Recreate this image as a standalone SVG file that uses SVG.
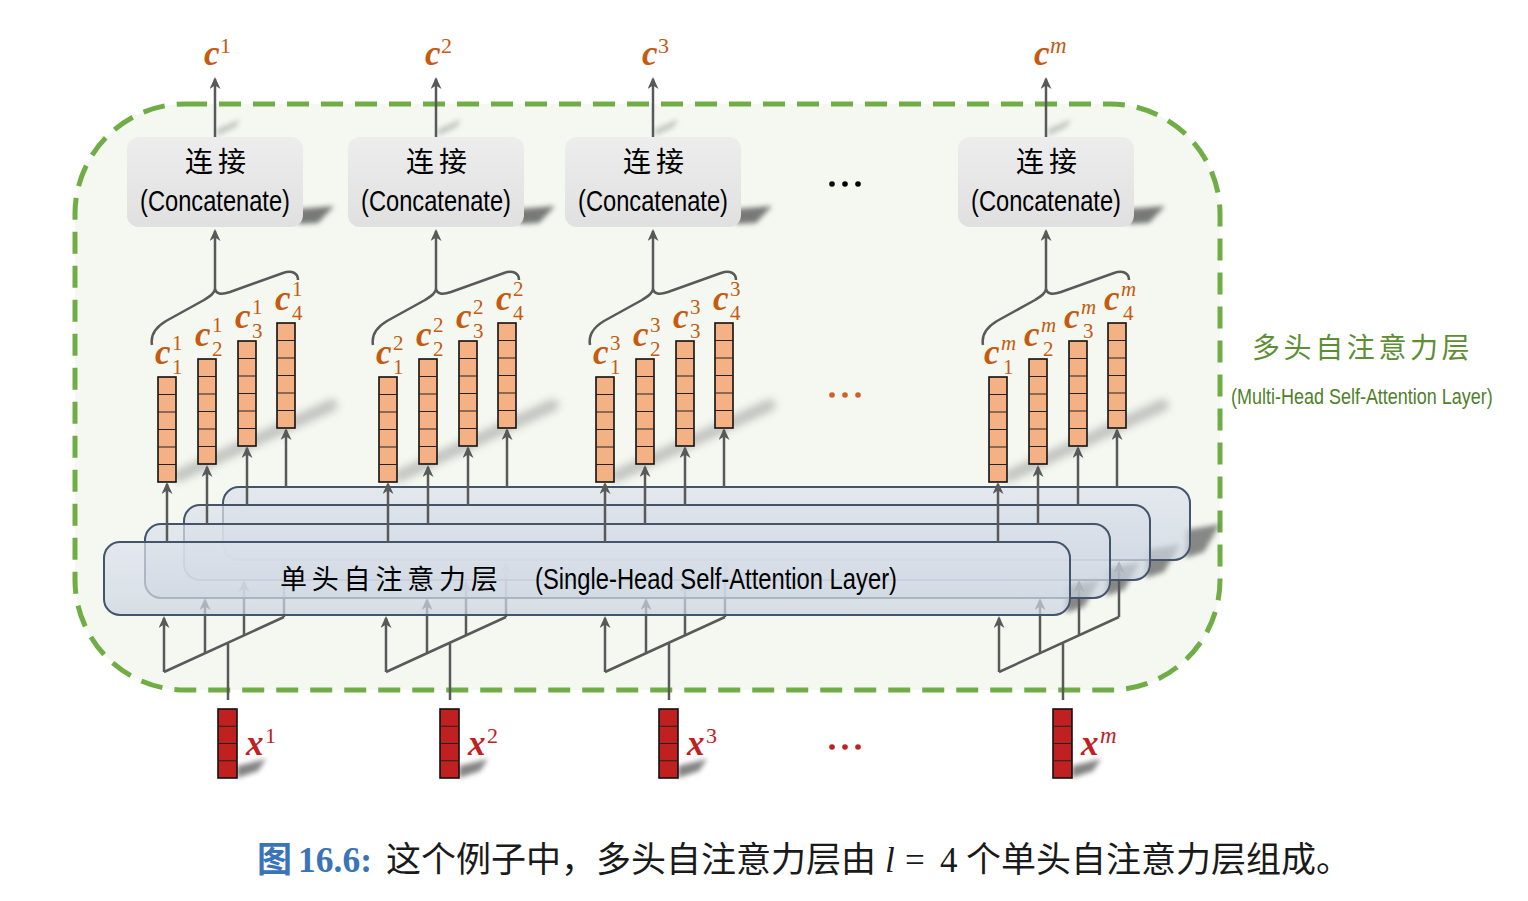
<svg xmlns="http://www.w3.org/2000/svg" xmlns:xlink="http://www.w3.org/1999/xlink" width="1528" height="901" viewBox="0 0 1528 901">
<style>
.ln{stroke:#595959;stroke-width:2.5;fill:none}
.ar{stroke:#595959;stroke-width:2.5;fill:none;marker-end:url(#ah)}
.vec{fill:#f4b183;stroke:#111;stroke-width:1.6}
.xv{fill:#c0201f;stroke:#111;stroke-width:1.6}
.cell{stroke:#222;stroke-width:1.2;fill:none}
.lbl{font-family:"Liberation Serif",serif;font-weight:bold;font-style:italic;font-size:35px;fill:#c55a11}
.xl{fill:#c0201f}
.sp{font-weight:normal;font-style:normal;font-size:22px}
.spi{font-weight:normal;font-style:italic;font-size:23px}
.ss{font-weight:normal;font-style:normal;font-size:21px}
.ssi{font-weight:normal;font-style:italic;font-size:21px}
.box{fill:url(#gc)}
.layer{fill:url(#gl);fill-opacity:0.72;stroke:#44546a;stroke-width:2}
.cjk{font-family:"Noto Sans CJK SC","Noto Sans CJK JP",sans-serif}
.en{font-family:"Liberation Sans",Arial,sans-serif}
.ctitle{font-size:28px;fill:#000}
.cen{font-size:29px;fill:#000}
.sh{fill:#5a5a5a;filter:url(#blur)}
.dot{stroke:none}
</style>
<defs>
<filter id="blur" x="-50%" y="-50%" width="200%" height="200%"><feGaussianBlur stdDeviation="2.5"/></filter>
<filter id="blur2" x="-50%" y="-50%" width="200%" height="200%"><feGaussianBlur stdDeviation="4"/></filter>
<linearGradient id="gc" x1="0" y1="0" x2="0" y2="1"><stop offset="0" stop-color="#ededed"/><stop offset="1" stop-color="#e0e0e0"/></linearGradient>
<linearGradient id="gl" x1="0" y1="0" x2="0" y2="1"><stop offset="0" stop-color="#dce2eb"/><stop offset="0.75" stop-color="#d1d9e4"/><stop offset="1" stop-color="#c9d2de"/></linearGradient>
<marker id="ah" viewBox="0 0 12 11" refX="10" refY="5.5" markerWidth="12" markerHeight="11" markerUnits="userSpaceOnUse" orient="auto"><path d="M0,0 L12,5.5 L0,11 L3.5,5.5 z" fill="#595959"/></marker>
<g id="v6"><rect width="18" height="105" class="vec"/><path d="M0,17.5h18M0,35h18M0,52.5h18M0,70h18M0,87.5h18" class="cell"/></g>
<g id="v4"><rect width="19" height="69" class="xv"/><path d="M0,17.25h19M0,34.5h19M0,51.75h19" class="cell"/></g>
</defs>
<rect width="1528" height="901" fill="#ffffff"/>

<g id="multi-head-container">
<rect x="75" y="104" width="1145" height="586" rx="110" fill="#f4f8f0" stroke="#70ad47" stroke-width="5" stroke-dasharray="22 12"/>
</g>

<g id="shadows">
<g id="shadow-col1">
<polygon class="sh" points="298,224 298,209 334,206 318,223" opacity="0.8"/>
<polygon class="sh" points="217,136 217,129 240,119 236,127" opacity="0.3"/>
<path d="M178,476 L332,405" stroke="#7a7a7a" stroke-width="11" stroke-linecap="round" opacity="0.45" filter="url(#blur2)"/>
</g>
<g transform="translate(221,0)">
<polygon class="sh" points="298,224 298,209 334,206 318,223" opacity="0.8"/>
<polygon class="sh" points="217,136 217,129 240,119 236,127" opacity="0.3"/>
<path d="M178,476 L332,405" stroke="#7a7a7a" stroke-width="11" stroke-linecap="round" opacity="0.45" filter="url(#blur2)"/>
</g>
<g transform="translate(438,0)">
<polygon class="sh" points="298,224 298,209 334,206 318,223" opacity="0.8"/>
<polygon class="sh" points="217,136 217,129 240,119 236,127" opacity="0.3"/>
<path d="M178,476 L332,405" stroke="#7a7a7a" stroke-width="11" stroke-linecap="round" opacity="0.45" filter="url(#blur2)"/>
</g>
<g transform="translate(831,0)">
<polygon class="sh" points="298,224 298,209 334,206 318,223" opacity="0.8"/>
<polygon class="sh" points="217,136 217,129 240,119 236,127" opacity="0.3"/>
<path d="M178,476 L332,405" stroke="#7a7a7a" stroke-width="11" stroke-linecap="round" opacity="0.45" filter="url(#blur2)"/>
</g>
<polygon class="sh" points="1186,558 1186,530 1220,524 1204,552" opacity="0.7"/>
<polygon class="sh" points="1146,578 1146,550 1180,544 1164,572" opacity="0.7"/>
<polygon class="sh" points="1106,596 1106,568 1140,562 1124,590" opacity="0.7"/>
<polygon class="sh" points="1066,613 1066,585 1100,579 1084,607" opacity="0.7"/>
</g>

<g id="concat-1">
<rect x="127" y="137" width="176" height="90" rx="12" class="box"/>
<text x="218" y="172" text-anchor="middle" class="cjk ctitle" letter-spacing="5">连接</text>
<text x="215" y="211" text-anchor="middle" class="en cen" textLength="150" lengthAdjust="spacingAndGlyphs">(Concatenate)</text>
</g>
<g id="concat-2" transform="translate(221,0)">
<rect x="127" y="137" width="176" height="90" rx="12" class="box"/>
<text x="218" y="172" text-anchor="middle" class="cjk ctitle" letter-spacing="5">连接</text>
<text x="215" y="211" text-anchor="middle" class="en cen" textLength="150" lengthAdjust="spacingAndGlyphs">(Concatenate)</text>
</g>
<g id="concat-3" transform="translate(438,0)">
<rect x="127" y="137" width="176" height="90" rx="12" class="box"/>
<text x="218" y="172" text-anchor="middle" class="cjk ctitle" letter-spacing="5">连接</text>
<text x="215" y="211" text-anchor="middle" class="en cen" textLength="150" lengthAdjust="spacingAndGlyphs">(Concatenate)</text>
</g>
<g id="concat-m" transform="translate(831,0)">
<rect x="127" y="137" width="176" height="90" rx="12" class="box"/>
<text x="218" y="172" text-anchor="middle" class="cjk ctitle" letter-spacing="5">连接</text>
<text x="215" y="211" text-anchor="middle" class="en cen" textLength="150" lengthAdjust="spacingAndGlyphs">(Concatenate)</text>
</g>

<g id="outputs">
<text class="lbl"><tspan x="204" y="65">c</tspan><tspan class="sp" x="220" y="53">1</tspan></text>
<text class="lbl"><tspan x="425" y="65">c</tspan><tspan class="sp" x="441" y="53">2</tspan></text>
<text class="lbl"><tspan x="642" y="65">c</tspan><tspan class="sp" x="658" y="53">3</tspan></text>
<text class="lbl"><tspan x="1034" y="65">c</tspan><tspan class="spi" x="1050" y="53">m</tspan></text>
</g>

<g id="heads-1">
<use xlink:href="#v6" href="#v6" x="158" y="377"/>
<use xlink:href="#v6" href="#v6" x="198" y="359"/>
<use xlink:href="#v6" href="#v6" x="238" y="341"/>
<use xlink:href="#v6" href="#v6" x="277" y="323"/>
<text class="lbl"><tspan x="155" y="364">c</tspan><tspan class="ss" x="172" y="350">1</tspan><tspan class="ss" x="172" y="374">1</tspan></text>
<text class="lbl"><tspan x="195" y="346">c</tspan><tspan class="ss" x="212" y="332">1</tspan><tspan class="ss" x="212" y="356">2</tspan></text>
<text class="lbl"><tspan x="235" y="328">c</tspan><tspan class="ss" x="252" y="314">1</tspan><tspan class="ss" x="252" y="338">3</tspan></text>
<text class="lbl"><tspan x="275" y="310">c</tspan><tspan class="ss" x="292" y="296">1</tspan><tspan class="ss" x="292" y="320">4</tspan></text>
</g>
<g id="heads-2" transform="translate(221,0)">
<use xlink:href="#v6" href="#v6" x="158" y="377"/>
<use xlink:href="#v6" href="#v6" x="198" y="359"/>
<use xlink:href="#v6" href="#v6" x="238" y="341"/>
<use xlink:href="#v6" href="#v6" x="277" y="323"/>
<text class="lbl"><tspan x="155" y="364">c</tspan><tspan class="ss" x="172" y="350">2</tspan><tspan class="ss" x="172" y="374">1</tspan></text>
<text class="lbl"><tspan x="195" y="346">c</tspan><tspan class="ss" x="212" y="332">2</tspan><tspan class="ss" x="212" y="356">2</tspan></text>
<text class="lbl"><tspan x="235" y="328">c</tspan><tspan class="ss" x="252" y="314">2</tspan><tspan class="ss" x="252" y="338">3</tspan></text>
<text class="lbl"><tspan x="275" y="310">c</tspan><tspan class="ss" x="292" y="296">2</tspan><tspan class="ss" x="292" y="320">4</tspan></text>
</g>
<g id="heads-3" transform="translate(438,0)">
<use xlink:href="#v6" href="#v6" x="158" y="377"/>
<use xlink:href="#v6" href="#v6" x="198" y="359"/>
<use xlink:href="#v6" href="#v6" x="238" y="341"/>
<use xlink:href="#v6" href="#v6" x="277" y="323"/>
<text class="lbl"><tspan x="155" y="364">c</tspan><tspan class="ss" x="172" y="350">3</tspan><tspan class="ss" x="172" y="374">1</tspan></text>
<text class="lbl"><tspan x="195" y="346">c</tspan><tspan class="ss" x="212" y="332">3</tspan><tspan class="ss" x="212" y="356">2</tspan></text>
<text class="lbl"><tspan x="235" y="328">c</tspan><tspan class="ss" x="252" y="314">3</tspan><tspan class="ss" x="252" y="338">3</tspan></text>
<text class="lbl"><tspan x="275" y="310">c</tspan><tspan class="ss" x="292" y="296">3</tspan><tspan class="ss" x="292" y="320">4</tspan></text>
</g>
<g id="heads-m" transform="translate(831,0)">
<use xlink:href="#v6" href="#v6" x="158" y="377"/>
<use xlink:href="#v6" href="#v6" x="198" y="359"/>
<use xlink:href="#v6" href="#v6" x="238" y="341"/>
<use xlink:href="#v6" href="#v6" x="277" y="323"/>
<text class="lbl"><tspan x="153" y="364">c</tspan><tspan class="ssi" x="170" y="350">m</tspan><tspan class="ss" x="172" y="374">1</tspan></text>
<text class="lbl"><tspan x="193" y="346">c</tspan><tspan class="ssi" x="210" y="332">m</tspan><tspan class="ss" x="212" y="356">2</tspan></text>
<text class="lbl"><tspan x="233" y="328">c</tspan><tspan class="ssi" x="250" y="314">m</tspan><tspan class="ss" x="252" y="338">3</tspan></text>
<text class="lbl"><tspan x="273" y="310">c</tspan><tspan class="ssi" x="290" y="296">m</tspan><tspan class="ss" x="292" y="320">4</tspan></text>
</g>

<g id="connectors-input">
<g>
<path class="ln" d="M228,700V643M164,672L284,617"/>
<path class="ar" d="M164,672V618"/>
<path class="ar" d="M205,653V600"/>
<path class="ar" d="M244,635V582"/>
<path class="ar" d="M284,617V563"/>
</g>
<g transform="translate(222,0)">
<path class="ln" d="M228,700V643M164,672L284,617"/>
<path class="ar" d="M164,672V618"/>
<path class="ar" d="M205,653V600"/>
<path class="ar" d="M244,635V582"/>
<path class="ar" d="M284,617V563"/>
</g>
<g transform="translate(441,0)">
<path class="ln" d="M228,700V643M164,672L284,617"/>
<path class="ar" d="M164,672V618"/>
<path class="ar" d="M205,653V600"/>
<path class="ar" d="M244,635V582"/>
<path class="ar" d="M284,617V563"/>
</g>
<g transform="translate(835,0)">
<path class="ln" d="M228,700V643M164,672L284,617"/>
<path class="ar" d="M164,672V618"/>
<path class="ar" d="M205,653V600"/>
<path class="ar" d="M244,635V582"/>
<path class="ar" d="M284,617V563"/>
</g>
</g>

<g id="single-head-4"><rect x="223" y="487" width="967" height="73" rx="16" class="layer"/></g>
<g id="single-head-3"><rect x="184" y="505" width="966" height="75" rx="16" class="layer"/></g>
<g id="single-head-2"><rect x="145" y="524" width="965" height="74" rx="16" class="layer"/></g>
<g id="single-head-1">
<rect x="104" y="542" width="966" height="73" rx="16" class="layer"/>
<text x="280" y="589" class="cjk" font-size="27" letter-spacing="4.8" fill="#000">单头自注意力层</text>
<text x="535" y="589" class="en" font-size="30" fill="#000" textLength="362" lengthAdjust="spacingAndGlyphs">(Single-Head Self-Attention Layer)</text>
</g>

<g id="connectors-output">
<g>
<path class="ar" d="M167,542V484"/>
<path class="ar" d="M207,524V467"/>
<path class="ar" d="M247,505V448"/>
<path class="ar" d="M286,487V430"/>
<path class="ln" d="M152,345 C150,334 156,327 166,321 L204,300 C210,296 214,294 215,289 C216,294 221,295 230,292 L283,273 C292,270 298,273 298,280"/>
<path class="ar" d="M215,289V231"/>
<path class="ar" d="M215,137V79"/>
</g>
<g transform="translate(221,0)">
<path class="ar" d="M167,542V484"/>
<path class="ar" d="M207,524V467"/>
<path class="ar" d="M247,505V448"/>
<path class="ar" d="M286,487V430"/>
<path class="ln" d="M152,345 C150,334 156,327 166,321 L204,300 C210,296 214,294 215,289 C216,294 221,295 230,292 L283,273 C292,270 298,273 298,280"/>
<path class="ar" d="M215,289V231"/>
<path class="ar" d="M215,137V79"/>
</g>
<g transform="translate(438,0)">
<path class="ar" d="M167,542V484"/>
<path class="ar" d="M207,524V467"/>
<path class="ar" d="M247,505V448"/>
<path class="ar" d="M286,487V430"/>
<path class="ln" d="M152,345 C150,334 156,327 166,321 L204,300 C210,296 214,294 215,289 C216,294 221,295 230,292 L283,273 C292,270 298,273 298,280"/>
<path class="ar" d="M215,289V231"/>
<path class="ar" d="M215,137V79"/>
</g>
<g transform="translate(831,0)">
<path class="ar" d="M167,542V484"/>
<path class="ar" d="M207,524V467"/>
<path class="ar" d="M247,505V448"/>
<path class="ar" d="M286,487V430"/>
<path class="ln" d="M152,345 C150,334 156,327 166,321 L204,300 C210,296 214,294 215,289 C216,294 221,295 230,292 L283,273 C292,270 298,273 298,280"/>
<path class="ar" d="M215,289V231"/>
<path class="ar" d="M215,137V79"/>
</g>
</g>

<g id="input-1">
<polygon class="sh" points="237,778 237,766 266,759 258,771" opacity="0.75"/>
<use xlink:href="#v4" href="#v4" x="218" y="709"/>
<text class="lbl xl"><tspan x="246" y="755">x</tspan><tspan class="sp" x="265" y="743">1</tspan></text>
</g>
<g id="input-2" transform="translate(222,0)">
<polygon class="sh" points="237,778 237,766 266,759 258,771" opacity="0.75"/>
<use xlink:href="#v4" href="#v4" x="218" y="709"/>
<text class="lbl xl"><tspan x="246" y="755">x</tspan><tspan class="sp" x="265" y="743">2</tspan></text>
</g>
<g id="input-3" transform="translate(441,0)">
<polygon class="sh" points="237,778 237,766 266,759 258,771" opacity="0.75"/>
<use xlink:href="#v4" href="#v4" x="218" y="709"/>
<text class="lbl xl"><tspan x="246" y="755">x</tspan><tspan class="sp" x="265" y="743">3</tspan></text>
</g>
<g id="input-m" transform="translate(835,0)">
<polygon class="sh" points="237,778 237,766 266,759 258,771" opacity="0.75"/>
<use xlink:href="#v4" href="#v4" x="218" y="709"/>
<text class="lbl xl"><tspan x="246" y="755">x</tspan><tspan class="spi" x="265" y="743">m</tspan></text>
</g>

<g id="ellipses">
<circle class="dot" cx="832" cy="184" r="2.8" fill="#000"/><circle class="dot" cx="845" cy="184" r="2.8" fill="#000"/><circle class="dot" cx="858" cy="184" r="2.8" fill="#000"/>
<circle class="dot" cx="832" cy="395" r="2.8" fill="#d0602a"/><circle class="dot" cx="845" cy="395" r="2.8" fill="#d0602a"/><circle class="dot" cx="858" cy="395" r="2.8" fill="#d0602a"/>
<circle class="dot" cx="832" cy="747" r="2.8" fill="#c0201f"/><circle class="dot" cx="845" cy="747" r="2.8" fill="#c0201f"/><circle class="dot" cx="858" cy="747" r="2.8" fill="#c0201f"/>
</g>

<g id="multi-head-label">
<text x="1252" y="358" class="cjk" font-size="28" letter-spacing="3.6" fill="#5e8e34">多头自注意力层</text>
<text transform="translate(1231,404) scale(0.77,1)" x="0" y="0" class="en" font-size="21.5" fill="#4f7f2a" textLength="340" lengthAdjust="spacingAndGlyphs">(Multi-Head Self-Attention Layer)</text>
</g>

<g id="caption">
<text y="872" font-size="35" fill="#1a1a1a"><tspan x="257" class="cjk" font-weight="bold" fill="#3b73b9">图</tspan><tspan x="298" font-family="Liberation Serif, serif" font-weight="bold" font-size="36" fill="#3b73b9" textLength="74" lengthAdjust="spacingAndGlyphs">16.6:</tspan><tspan x="386" class="cjk">这个例子中，多头自注意力层由</tspan><tspan x="885" font-family="Liberation Serif, serif" font-style="italic">l</tspan><tspan x="905" font-family="Liberation Serif, serif">=</tspan><tspan x="940" font-family="Liberation Serif, serif">4</tspan><tspan x="966" class="cjk">个单头自注意力层组成。</tspan></text>
</g>
</svg>
